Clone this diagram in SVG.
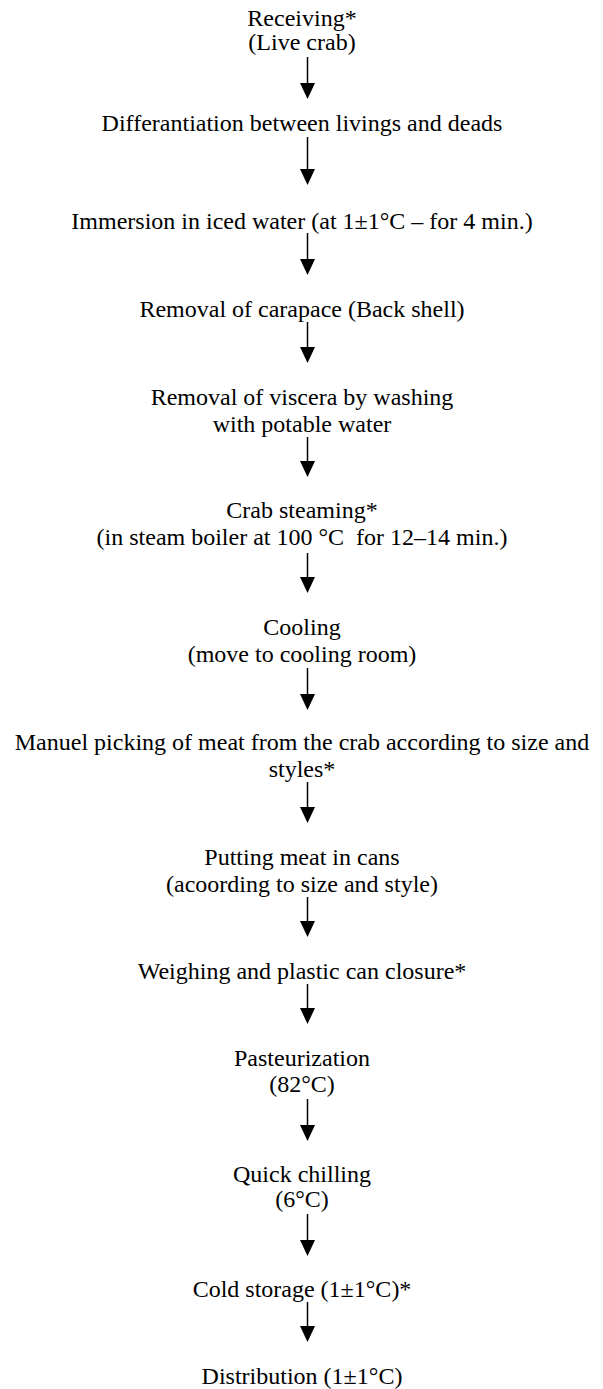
<svg xmlns="http://www.w3.org/2000/svg" width="603" height="1389" viewBox="0 0 603 1389">
<style>
text{font-family:"Liberation Serif","Times New Roman",serif;font-size:24px;fill:#000;text-anchor:middle;white-space:pre}
.c line{stroke:#000;stroke-width:1.5}
</style>
<defs>
<marker id="ah" markerUnits="userSpaceOnUse" markerWidth="16" markerHeight="15" viewBox="0 0 16 15" refX="8" refY="7.5" orient="auto">
<path d="M0,0 L16,7.5 L0,15 Z" fill="#000"/>
</marker>
</defs>
<rect width="603" height="1389" fill="#fff"/>
<g id="n1"><text x="302" y="26">Receiving*</text><text x="302" y="50">(Live crab)</text></g>
<g id="n2"><text x="302" y="131">Differantiation between livings and deads</text></g>
<g id="n3"><text x="302" y="229">Immersion in iced water (at 1±1°C – for 4 min.)</text></g>
<g id="n4"><text x="302" y="317">Removal of carapace (Back shell)</text></g>
<g id="n5"><text x="302" y="405">Removal of viscera by washing</text><text x="302" y="432">with potable water</text></g>
<g id="n6"><text x="302" y="518">Crab steaming*</text><text x="302" y="545">(in steam boiler at 100 °C  for 12–14 min.)</text></g>
<g id="n7"><text x="302" y="635">Cooling</text><text x="302" y="662">(move to cooling room)</text></g>
<g id="n8"><text x="302" y="750">Manuel picking of meat from the crab according to size and</text><text x="302" y="777">styles*</text></g>
<g id="n9"><text x="302" y="865">Putting meat in cans</text><text x="302" y="892">(acoording to size and style)</text></g>
<g id="n10"><text x="302" y="979">Weighing and plastic can closure*</text></g>
<g id="n11"><text x="302" y="1066">Pasteurization</text><text x="302" y="1092">(82°C)</text></g>
<g id="n12"><text x="302" y="1182">Quick chilling</text><text x="302" y="1207">(6°C)</text></g>
<g id="n13"><text x="302" y="1297">Cold storage (1±1°C)*</text></g>
<g id="n14"><text x="302" y="1384">Distribution (1±1°C)</text></g>
<g id="connectors" class="c">
<line x1="307.5" y1="57" x2="307.5" y2="91" marker-end="url(#ah)"/>
<line x1="307.5" y1="137" x2="307.5" y2="177" marker-end="url(#ah)"/>
<line x1="307.5" y1="233" x2="307.5" y2="267" marker-end="url(#ah)"/>
<line x1="307.5" y1="322" x2="307.5" y2="355" marker-end="url(#ah)"/>
<line x1="307.5" y1="437" x2="307.5" y2="469" marker-end="url(#ah)"/>
<line x1="307.5" y1="553" x2="307.5" y2="585" marker-end="url(#ah)"/>
<line x1="307.5" y1="668" x2="307.5" y2="702" marker-end="url(#ah)"/>
<line x1="307.5" y1="782" x2="307.5" y2="815" marker-end="url(#ah)"/>
<line x1="307.5" y1="897" x2="307.5" y2="929" marker-end="url(#ah)"/>
<line x1="307.5" y1="984" x2="307.5" y2="1016" marker-end="url(#ah)"/>
<line x1="307.5" y1="1099" x2="307.5" y2="1133" marker-end="url(#ah)"/>
<line x1="307.5" y1="1214" x2="307.5" y2="1248" marker-end="url(#ah)"/>
<line x1="307.5" y1="1302" x2="307.5" y2="1334" marker-end="url(#ah)"/>
</g>
</svg>
